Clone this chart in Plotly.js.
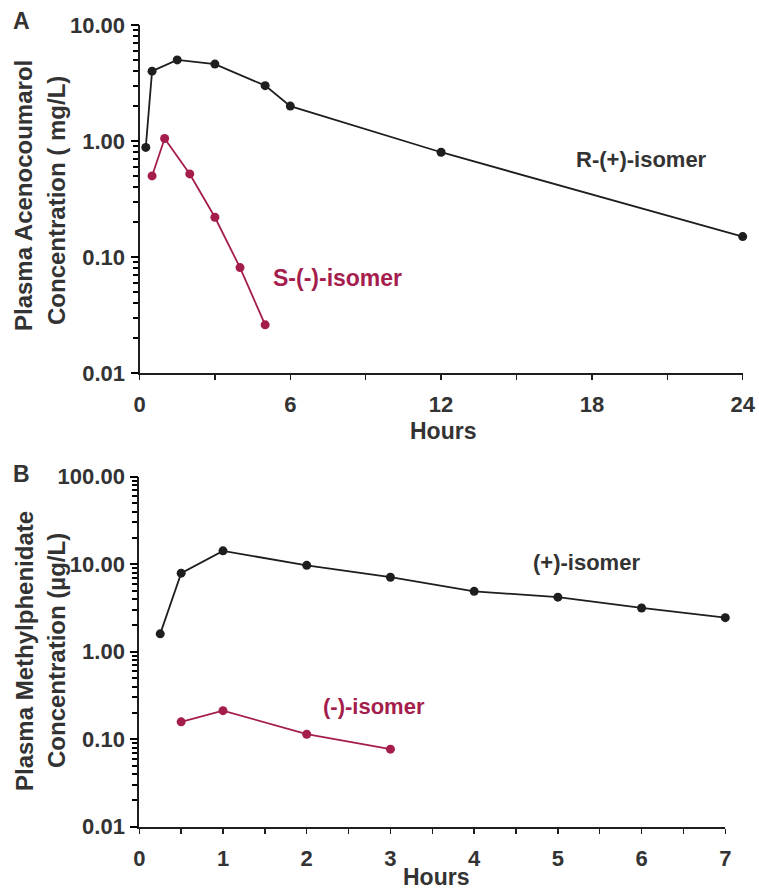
<!DOCTYPE html>
<html>
<head>
<meta charset="utf-8">
<script src="https://cdn.plot.ly/plotly-3.0.1.min.js"></script>
<style>html,body{margin:0;padding:0;background:#fff;}#chart{width:759px;height:892px;}</style>
</head>
<body>
<div id="chart"></div>
<script>
// Panel A: acenocoumarol (mg/L)
const hoursR = [0.25, 0.5, 1.5, 3, 5, 6, 12, 24];
const concR = [0.88, 4.0, 5.0, 4.6, 3.0, 2.0, 0.80, 0.15];
const hoursS = [0.5, 1, 2, 3, 4, 5];
const concS = [0.50, 1.05, 0.52, 0.22, 0.081, 0.026];
// Panel B: methylphenidate (µg/L)
const hoursPlus = [0.25, 0.5, 1, 2, 3, 4, 5, 6, 7];
const concPlus = [1.6, 7.9, 14.2, 9.7, 7.1, 4.9, 4.2, 3.16, 2.45];
const hoursMinus = [0.5, 1, 2, 3];
const concMinus = [0.158, 0.212, 0.114, 0.077];

// y tick labels
const yTicksA = [0.01, 0.1, 1, 10];
const yTextA = ["0.01", "0.10", "1.00", "10.00"];
const yTicksB = [0.01, 0.1, 1, 10, 100];
const yTextB = ["0.01", "0.10", "1.00", "10.00", "100.00"];

const labelsA = ["R-(+)-isomer", "S-(-)-isomer"];
const labelsB = ["(+)-isomer", "(-)-isomer"];

const W = 759, H = 892;
const px = x => x / W;
const py = y => 1 - y / H;

const BLACK = '#1e1e1e';
const RED = '#a51d4c';
const TXT = '#333333';
const FONT = 'Liberation Sans, Arial, sans-serif';

function line(x, y, color, xa, ya) {
  return {
    x: x, y: y, xaxis: xa, yaxis: ya, type: 'scatter', mode: 'lines+markers',
    line: {color: color, width: 1.8}, marker: {color: color, size: 9},
    cliponaxis: false, showlegend: false, hoverinfo: 'x+y'
  };
}
function ghost(x, y, xa, ya) {
  return {x: x, y: y, xaxis: xa, yaxis: ya, type: 'scatter', mode: 'markers',
          marker: {opacity: 0, size: 1}, showlegend: false, hoverinfo: 'skip'};
}

const data = [
  ghost(hoursR, concR, 'x', 'y3'),
  ghost(hoursPlus, concPlus, 'x2', 'y4'),
  line(hoursR, concR, BLACK, 'x', 'y'),
  line(hoursS, concS, RED, 'x', 'y'),
  line(hoursPlus, concPlus, BLACK, 'x2', 'y2'),
  line(hoursMinus, concMinus, RED, 'x2', 'y2')
];

const tickFont = {family: FONT, size: 22, color: TXT, weight: 'bold'};

function logAll(majors) {
  const v = [];
  majors.forEach((m, i) => {
    v.push(m);
    if (i < majors.length - 1) for (let k = 2; k <= 9; k++) v.push(k * m);
  });
  return v;
}

function xaxis(domain, anchor, range, dtick, mdtick) {
  return {
    domain: domain, anchor: anchor, range: range, dtick: dtick, tick0: 0,
    showgrid: false, zeroline: false, showline: true, linecolor: BLACK, linewidth: 2,
    ticks: 'outside', ticklen: 5, tickwidth: 1.5, tickcolor: BLACK,
    tickfont: tickFont, ticklabelstandoff: 6,
    minor: {ticks: 'outside', ticklen: 5, tickwidth: 1.5, tickcolor: BLACK, dtick: mdtick, tick0: 0, showgrid: false},
    fixedrange: true
  };
}
function yaxis(domain, anchor, range, majors, texts) {
  const vals = logAll(majors);
  const txt = vals.map(v => { const i = majors.indexOf(v); return i >= 0 ? texts[i] : ''; });
  return {
    domain: domain, anchor: anchor, type: 'log', range: range,
    tickmode: 'array', tickvals: vals, ticktext: txt,
    showgrid: false, zeroline: false, showline: true, linecolor: BLACK, linewidth: 2,
    ticks: 'outside', ticklen: 5, tickwidth: 2, tickcolor: '#000000',
    tickfont: tickFont, ticklabelstandoff: 3,
    fixedrange: true
  };
}
function majorY(over, anchor, range, majors) {
  return {
    overlaying: over, anchor: anchor, side: 'left', type: 'log', range: range,
    tickmode: 'array', tickvals: majors,
    showticklabels: false, showgrid: false, zeroline: false, showline: false,
    ticks: 'outside', ticklen: 8, tickwidth: 2, tickcolor: '#000000',
    fixedrange: true
  };
}

function ann(text, x, y, size, color, angle) {
  return {
    text: text, x: px(x), y: py(y), xref: 'paper', yref: 'paper',
    xanchor: 'center', yanchor: 'middle', showarrow: false, textangle: angle || 0,
    font: {family: FONT, size: size, color: color, weight: 'bold'}
  };
}

const layout = {
  width: W, height: H,
  margin: {l: 0, r: 0, t: 0, b: 0},
  paper_bgcolor: '#ffffff', plot_bgcolor: '#ffffff',
  xaxis: xaxis([px(139.5), px(742.7)], 'y', [0, 24], 6, 3),
  yaxis: yaxis([py(373), py(25)], 'x', [-2, 1], yTicksA, yTextA),
  yaxis3: majorY('y', 'x', [-2, 1], yTicksA),
  xaxis2: xaxis([px(139.3), px(725.3)], 'y2', [0, 7], 1, 0.5),
  yaxis2: yaxis([py(826.7), py(476.7)], 'x2', [-2, 2], yTicksB, yTextB),
  yaxis4: majorY('y2', 'x2', [-2, 2], yTicksB),
  annotations: [
    ann('A', 21, 21, 23, TXT),
    ann('B', 21, 474, 23, TXT),
    ann('Plasma Acenocoumarol', 24, 196, 24, TXT, -90),
    ann('Concentration ( mg/L)', 56, 201, 24, TXT, -90),
    ann('Plasma Methylphenidate', 24, 651, 24, TXT, -90),
    ann('Concentration (\u00b5g/L)', 56, 651, 24, TXT, -90),
    ann('Hours', 443, 431, 23, TXT),
    ann('Hours', 436, 877, 23, TXT),
    ann(labelsA[0], 641, 159, 22, TXT),
    ann(labelsA[1], 337, 278, 23, RED),
    ann(labelsB[0], 586, 562, 22, TXT),
    ann(labelsB[1], 374, 706, 22, RED)
  ]
};

Plotly.newPlot('chart', data, layout, {displayModeBar: false, staticPlot: true});
</script>
</body>
</html>
